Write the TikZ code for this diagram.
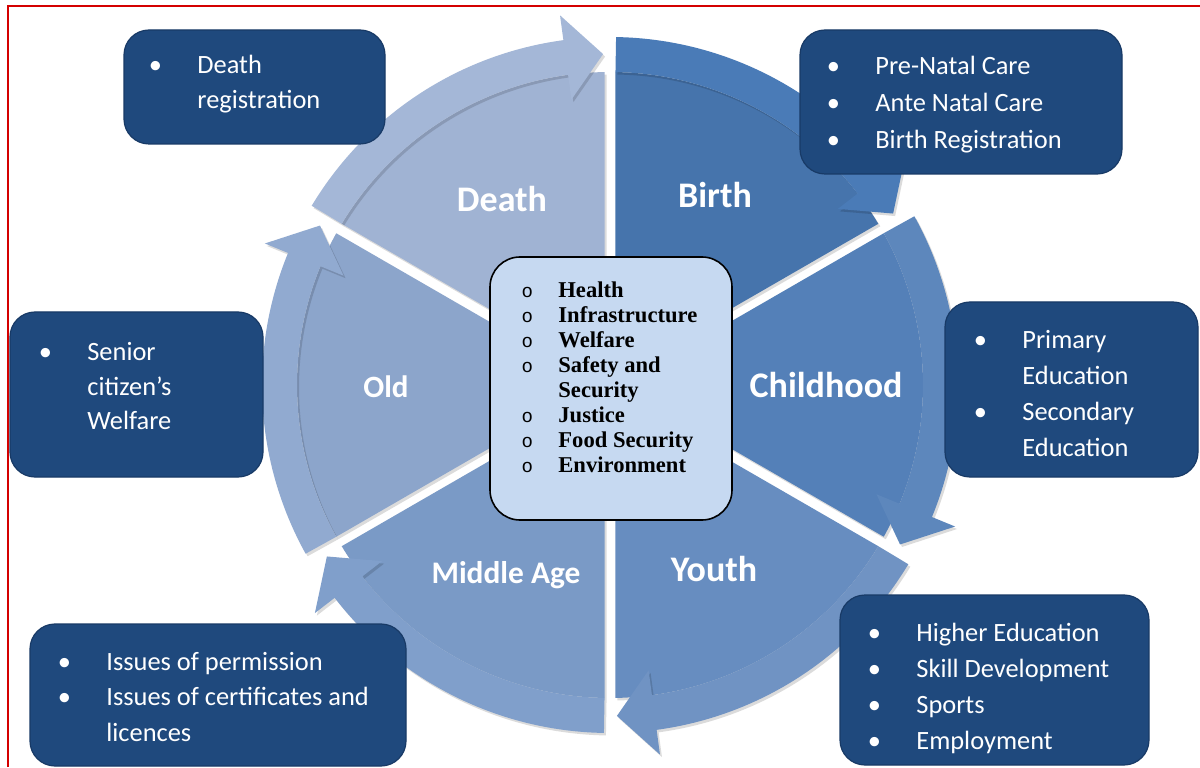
\documentclass[tikz,border=0pt]{standalone}
\usepackage{fontspec}
\setmainfont{Carlito}
\newfontfamily\cfont{Liberation Serif}
\newfontfamily\mono{Liberation Mono}
\definecolor{sBirth}{HTML}{4674AC}\definecolor{aBirth}{HTML}{4A7BB7}
\definecolor{sChild}{HTML}{5480B8}\definecolor{aChild}{HTML}{5D87BC}
\definecolor{sYouth}{HTML}{678DC0}\definecolor{aYouth}{HTML}{7093C3}
\definecolor{sMid}{HTML}{7A9AC6}\definecolor{aMid}{HTML}{809FCB}
\definecolor{sOld}{HTML}{8CA5CB}\definecolor{aOld}{HTML}{91AAD0}
\definecolor{sDeath}{HTML}{A0B3D3}\definecolor{aDeath}{HTML}{A4B7D7}
\definecolor{dboxfill}{HTML}{1F497D}\definecolor{dboxedge}{HTML}{183A66}
\definecolor{cboxfill}{HTML}{C6D9F1}\definecolor{frame}{HTML}{D40000}
\newcommand{\di}[1]{\makebox[42pt][c]{\textbullet}#1}
\newcommand{\dc}[1]{\hspace*{42pt}#1}
\newcommand{\ci}[1]{\makebox[31pt][c]{\mono\mdseries\fontsize{9.5}{9.5}\selectfont o}#1}
\newcommand{\cc}[1]{\hspace*{31pt}#1}
\tikzset{
 lab/.style={text=white, inner sep=0, anchor=base},
 dbox/.style={draw=dboxedge, fill=dboxfill, rounded corners=12.5pt, line width=0.6pt, inner sep=0},
 dtext/.style={text=white, inner sep=0, anchor=base west},
 cbox/.style={draw=black, fill=cboxfill, rounded corners=15pt, line width=0.8pt, inner sep=0},
 ctext/.style={inner sep=0, anchor=base west, font=\cfont\bfseries\fontsize{11.3}{12.5}\selectfont},
 shade1/.style={black,opacity=.14,shift={(2,-2.5)}}
}
\begin{document}
\begin{tikzpicture}[x=0.5pt,y=0.5pt]
\useasboundingbox (0,0) rectangle (1200,767);
\fill[white] (0,0) rectangle (1200,767);
\draw[frame, line width=1pt] (8,0) -- (8,761) -- (1200,761);
\begin{scope}[shift={(610,382)}]
 % shadows of sectors
 \foreach \B in {90,30,-30,-90,-150,-210}{
  \fill[shade1] (\B-30:11) -- (\B-1:313) arc[start angle=\B-1, end angle=\B-59, radius=313] -- cycle;
 }
 \foreach \B/\colS in {90/sBirth,30/sChild,-30/sYouth,-90/sMid,-150/sOld,-210/sDeath}{
  \fill[\colS] (\B-30:11) -- (\B-1:313) arc[start angle=\B-1, end angle=\B-59, radius=313] -- cycle;
 }
 % band shadows
 \foreach \B in {90,30,-30,-90,-150,-210}{
  \fill[shade1] (\B-1:348) arc[start angle=\B-1, end angle=\B-52.3, radius=348] -- (\B-52.3:373) -- (\B-58.8:331) -- (\B-52.3:288) -- (\B-52.3:313) arc[start angle=\B-52.3, end angle=\B-1, radius=313] -- cycle;
 }
 \foreach \B/\colA in {90/aBirth,30/aChild,-30/aYouth,-90/aMid,-150/aOld,-210/aDeath}{
  \fill[\colA] (\B-1:348) arc[start angle=\B-1, end angle=\B-52.3, radius=348] -- (\B-52.3:373) -- (\B-58.8:331) -- (\B-52.3:288) -- (\B-52.3:313) arc[start angle=\B-52.3, end angle=\B-1, radius=313] -- cycle;
 }
\end{scope}
% sector labels
\node[lab, font=\bfseries\fontsize{18}{20}\selectfont] (lDeath) at (502,555) {Death};
\node[lab, font=\bfseries\fontsize{18}{20}\selectfont] (lBirth) at (715,559) {Birth};
\node[lab, font=\bfseries\fontsize{18}{20}\selectfont] (lChild) at (826,369) {Childhood};
\node[lab, font=\bfseries\fontsize{18}{20}\selectfont] (lYouth) at (714,186) {Youth};
\node[lab, font=\bfseries\fontsize{15.7}{18}\selectfont] (lMid) at (506,184) {Middle Age};
\node[lab, font=\bfseries\fontsize{15.5}{18}\selectfont] (lOld) at (386,370) {Old};
% centre box
\node[cbox, minimum width=121pt, minimum height=131.5pt] (cbox) at (611,378.5) {};
\node[ctext] (ctxt) at (496,469) {\begin{tabular}[t]{@{}l@{}}\ci{Health}\\\ci{Infrastructure}\\\ci{Welfare}\\\ci{Safety and}\\\cc{Security}\\\ci{Justice}\\\ci{Food Security}\\\ci{Environment}\end{tabular}};
% dark boxes
\node[dbox, minimum width=130.5pt, minimum height=57pt] (bDeath) at (254.5,680) {};
\node[dbox, minimum width=161pt, minimum height=72pt] (bBirth) at (961,665) {};
\node[dbox, minimum width=126.5pt, minimum height=87.5pt] (bChild) at (1071.5,377.5) {};
\node[dbox, minimum width=154.5pt, minimum height=85pt] (bYouth) at (994.5,87) {};
\node[dbox, minimum width=188pt, minimum height=71pt] (bMid) at (218,72) {};
\node[dbox, minimum width=126.5pt, minimum height=82.5pt] (bOld) at (136.5,372.5) {};
\node[dtext, font=\fontsize{13.2}{17.5}\selectfont] (tDeath) at (113,693) {\begin{tabular}[t]{@{}l@{}}\di{Death}\\\dc{registration}\end{tabular}};
\node[dtext, font=\fontsize{13.2}{18.5}\selectfont] (tBirth) at (791,692) {\begin{tabular}[t]{@{}l@{}}\di{Pre-Natal Care}\\\di{Ante Natal Care}\\\di{Birth Registration}\end{tabular}};
\node[dtext, font=\fontsize{13.2}{17.85}\selectfont] (tChild) at (938,418) {\begin{tabular}[t]{@{}l@{}}\di{Primary}\\\dc{Education}\\\di{Secondary}\\\dc{Education}\end{tabular}};
\node[dtext, font=\fontsize{13.2}{18.15}\selectfont] (tYouth) at (832,126) {\begin{tabular}[t]{@{}l@{}}\di{Higher Education}\\\di{Skill Development}\\\di{Sports}\\\di{Employment}\end{tabular}};
\node[dtext, font=\fontsize{13.2}{17.75}\selectfont] (tMid) at (22,97) {\begin{tabular}[t]{@{}l@{}}\di{Issues of permission}\\\di{Issues of certificates and}\\\dc{licences}\end{tabular}};
\node[dtext, font=\fontsize{13.2}{17.5}\selectfont] (tOld) at (3,407) {\begin{tabular}[t]{@{}l@{}}\di{Senior}\\\dc{citizen’s}\\\dc{Welfare}\end{tabular}};
\end{tikzpicture}
\end{document}
